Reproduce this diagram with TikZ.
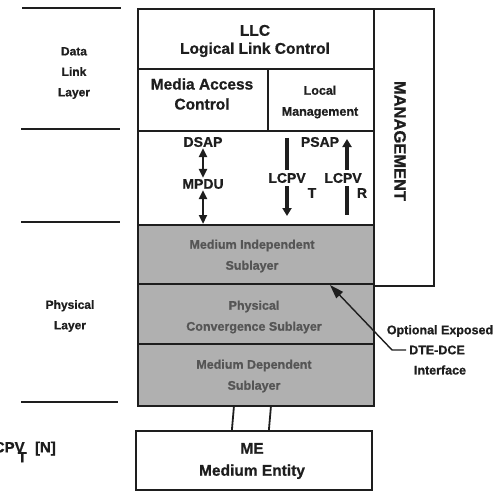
\documentclass[tikz,border=0pt]{standalone}
\usepackage{fontspec}
\setmainfont{Liberation Sans}[BoldFeatures={FakeBold=0.8}]
\usetikzlibrary{arrows.meta,positioning,calc}
\definecolor{linedark}{HTML}{1E1E1E}
\definecolor{subgray}{HTML}{B0B0B0}
\definecolor{subtext}{HTML}{555555}
\tikzset{
  layerbox/.style={
    rectangle, draw=linedark, line width=1.8pt, inner sep=0pt,
    anchor=north west, minimum width=236pt
  },
  sublayer/.style={layerbox, fill=subgray},
  boxtext/.style={align=center, text=linedark, inner sep=0pt},
  bigtext/.style={boxtext, font=\bfseries\fontsize{15.5}{20}\selectfont},
  smalltext/.style={boxtext, font=\bfseries\fontsize{12.5}{21}\selectfont},
  subtext/.style={boxtext, text=subtext, font=\bfseries\fontsize{12.5}{21}\selectfont},
  sidelabel/.style={font=\bfseries\fontsize{12}{20.5}\selectfont, align=center, text=linedark, inner sep=0pt},
  signal/.style={font=\bfseries\fontsize{14}{16}\selectfont, text=linedark, inner sep=1pt},
  rule/.style={draw=linedark, line width=2.2pt},
  bar/.style={draw=linedark, line width=3.5pt},
  barhead/.style={bar, -{Triangle[length=8pt,width=9pt]}},
  twohead/.style={draw=linedark, line width=2.4pt, {Triangle[length=9pt,width=8pt]}-{Triangle[length=9pt,width=8pt]}},
  pointer/.style={draw=linedark, line width=1.4pt, -{Triangle[length=14pt,width=9pt]}}
}

\begin{document}
\begin{tikzpicture}[x=1pt,y=-1pt]
\useasboundingbox (0,0) rectangle (495,492);
% data link layer
\node[layerbox, minimum height=60pt] (llc) at (137,8) {};
\node[layerbox, minimum width=130pt, minimum height=62pt] (mac) at (137,68) {};
\node[layerbox, minimum width=106pt, minimum height=62pt] (lme) at (267,68) {};
\node[layerbox, minimum height=94pt] (sap) at (137,130) {};
\node[layerbox, minimum width=60pt, minimum height=277pt] (mgmt) at (373,8) {};
\node[bigtext, font=\bfseries\fontsize{15.5}{18}\selectfont] (llclbl) at (255,41) {LLC\\Logical Link Control};
\node[bigtext] (maclbl) at (202,94) {Media Access\\Control};
\node[smalltext] (lmelbl) at (320,102) {Local\\Management};
\node[signal, rotate=-90, font=\bfseries\fontsize{16.5}{18}\selectfont] (mgmtlbl) at (400,141) {MANAGEMENT};
% physical sublayers
\node[sublayer, minimum height=59pt] (mis) at (137,224) {};
\node[sublayer, minimum height=60pt] (pcs) at (137,283) {};
\node[sublayer, minimum height=62pt] (mds) at (137,343) {};
\node[layerbox, minimum height=59pt] (me) at (135,430) {};
\node[subtext] (mislbl) at (252,256) {Medium Independent\\Sublayer};
\node[subtext] (pcslbl) at (254,317) {Physical\\Convergence Sublayer};
\node[subtext] (mdslbl) at (254,376) {Medium Dependent\\Sublayer};
\node[bigtext, font=\bfseries\fontsize{15.5}{22}\selectfont] (melbl) at (252,461) {ME\\Medium Entity};
\draw[rule, line width=1.8pt] ([xshift=-22pt]mds.south) -- ([xshift=-22pt]me.north);
\draw[rule, line width=1.8pt] ([xshift=15pt]mds.south) -- ([xshift=15pt]me.north);
% service access points
\node[signal] (dsap) at (203,142) {DSAP};
\node[signal] (mpdu) at (203,184) {MPDU};
\node[signal] (psap) at (320,142) {PSAP};
\node[signal] (lcpvt) at (287,178) {LCPV};
\node[signal] (lcpvr) at (343,178) {LCPV};
\node[signal] (tsub) at (312,193) {T};
\node[signal] (rsub) at (362,193) {R};
\draw[twohead] (dsap.south) -- (mpdu.north);
\draw[twohead] (mpdu.south) -- (mpdu.south |- mis.north);
\draw[bar, shorten >=2pt] ([yshift=-8pt]lcpvt.north |- sap.north) -- (lcpvt.north);
\draw[barhead, shorten <=2pt, shorten >=8pt] (lcpvt.south) -- (lcpvt.south |- mis.north);
\draw[barhead, shorten <=2pt, shorten >=9pt] ([xshift=4pt]lcpvr.north) -- ([xshift=4pt]lcpvr.north |- sap.north);
\draw[bar, shorten <=2pt, shorten >=9pt] ([xshift=4pt]lcpvr.south) -- ([xshift=4pt]lcpvr.south |- mis.north);
% layer rules on the left
\coordinate (r1) at (22,8);
\coordinate (r2) at (21,129);
\coordinate (r3) at (21,222);
\coordinate (r4) at (21,402);
\draw[rule] (r1) -- ++(99,0);
\draw[rule] (r2) -- ++(99,0);
\draw[rule] (r3) -- ++(99,0);
\draw[rule] (r4) -- ++(97,0);
\node[sidelabel] (dll) at (74,73) {Data\\Link\\Layer};
\node[sidelabel] (phy) at (70,316) {Physical\\Layer};
\node[signal, anchor=east, font=\bfseries\fontsize{15}{16}\selectfont] (lcpvn) at (57,452) {LCPV\kern-7pt\raisebox{-10pt}{T}\kern4pt\ [N]};
% exposed interface
\node[sidelabel, font=\bfseries\fontsize{12.5}{20}\selectfont] (opt) at (440,331) {Optional Exposed};
\node[sidelabel, font=\bfseries\fontsize{12.5}{20}\selectfont] (dtedce) at (437,350) {DTE-DCE};
\node[sidelabel, font=\bfseries\fontsize{12.5}{20}\selectfont] (iface) at (440,370) {Interface};
\coordinate (port) at (330,285);
\draw[pointer] ([xshift=-3pt]dtedce.west) -- ++(-14,0) -- (port);
\end{tikzpicture}
\end{document}
